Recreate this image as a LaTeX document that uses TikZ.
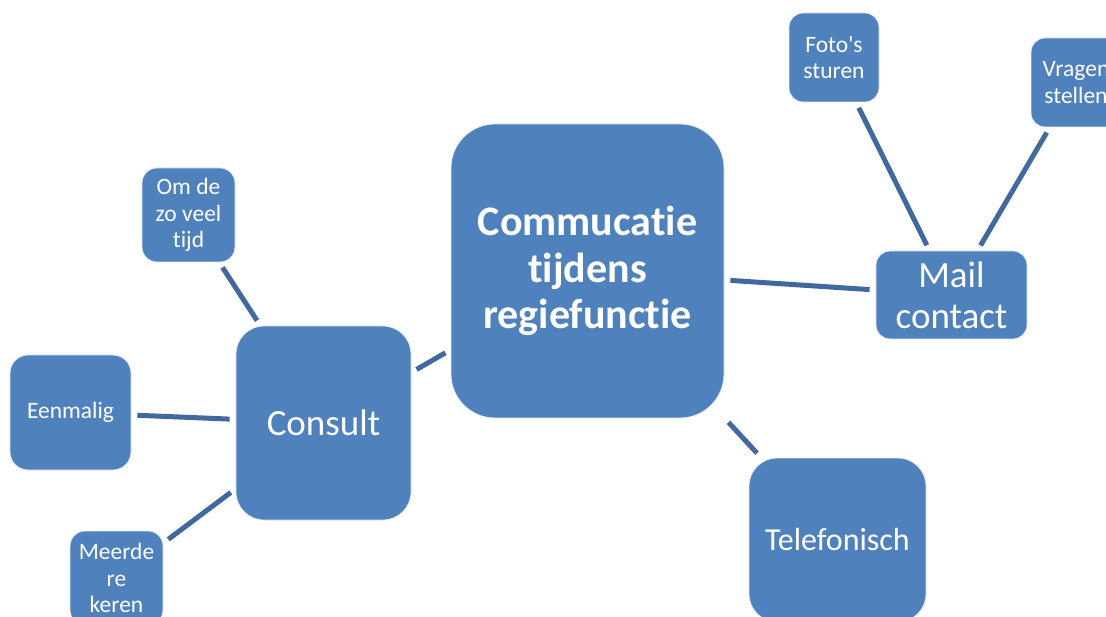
\documentclass[tikz,border=0pt]{standalone}
\usepackage{fontspec}
\setmainfont[Ligatures={NoCommon}]{Carlito}
\definecolor{boxblue}{HTML}{4F81BD}
\definecolor{linkblue}{HTML}{41699D}
\begin{document}
\begin{tikzpicture}[x=1pt,y=-1pt,
  box/.style={fill=boxblue,draw=white!85!boxblue,line width=0.8pt,text=white,align=center,inner sep=0pt,anchor=center},
  link/.style={draw=linkblue,line width=5pt,shorten <=6pt,shorten >=6pt},
  small/.style={font=\fontsize{23.5}{26.5}\selectfont}]
\useasboundingbox (0,0) rectangle (1106,617);
\clip (0,0) rectangle (1106,617);
\node[box,minimum width=273pt,minimum height=294pt,rounded corners=44pt,font=\fontsize{42}{46.5}\selectfont\bfseries] (c) at (587.5,271) {Commucatie\\tijdens\\regiefunctie};
\node[box,minimum width=151pt,minimum height=88pt,rounded corners=14pt,font=\fontsize{37}{41}\selectfont] (mail) at (951.5,295) {Mail\\contact};
\node[box,small,minimum width=90pt,minimum height=89pt,rounded corners=14pt] (foto) at (834,57.5) {Foto\textquotesingle s\\sturen};
\node[box,small,minimum width=90pt,minimum height=89pt,rounded corners=14pt] (vragen) at (1076,82.5) {Vragen\\stellen};
\node[box,small,minimum width=93pt,minimum height=94pt,rounded corners=15pt] (omde) at (188.5,215) {Om de\\zo veel\\tijd};
\node[box,small,minimum width=121pt,minimum height=115pt,rounded corners=18pt] (een) at (70.5,412.5) {Eenmalig};
\node[box,minimum width=175pt,minimum height=194pt,rounded corners=28pt,font=\fontsize{37}{41}\selectfont] (consult) at (323.5,423) {Consult};
\node[box,small,minimum width=93pt,minimum height=94pt,rounded corners=15pt] (meer) at (116.5,578) {Meerde\\re\\keren};
\node[box,minimum width=177pt,minimum height=164pt,rounded corners=28pt,font=\fontsize{32}{36}\selectfont] (tel) at (837.5,540) {Telefonisch};
\draw[link] (c) -- (consult);
\draw[link] (c) -- (mail);
\draw[link] (c) -- (tel);
\draw[link] (mail) -- (foto);
\draw[link] (mail) -- (vragen);
\draw[link] (consult) -- (omde);
\draw[link] (consult) -- (een);
\draw[link] (consult) -- (meer);
\end{tikzpicture}
\end{document}
